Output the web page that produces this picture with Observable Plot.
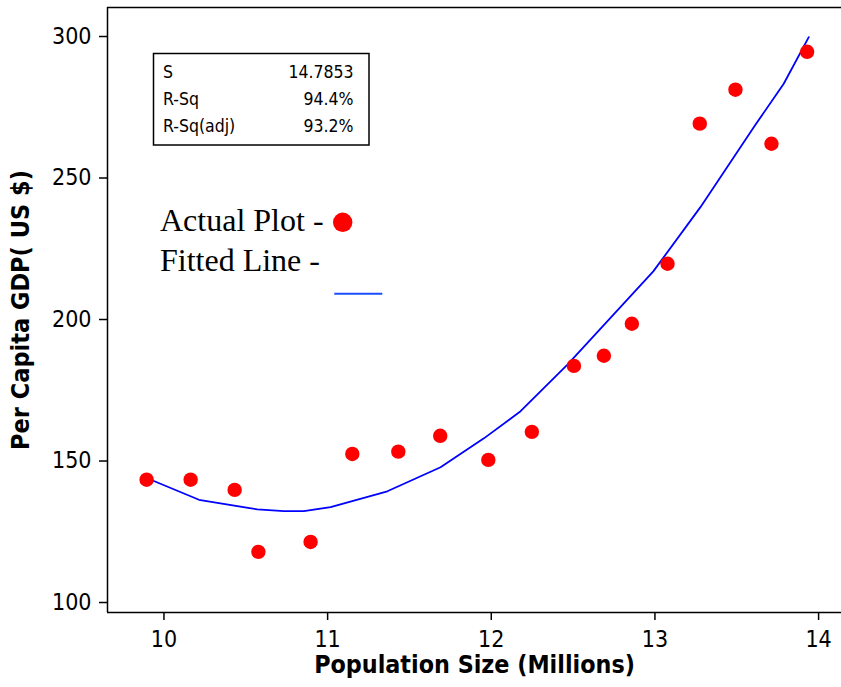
<!DOCTYPE html>
<html>
<head>
<meta charset="utf-8">
<script src="https://cdn.jsdelivr.net/npm/d3@7"></script>
<script src="https://cdn.jsdelivr.net/npm/@observablehq/plot@0.6"></script>
<style>
  html, body { margin: 0; padding: 0; background: #fff; }
  #wrap { position: relative; width: 841px; height: 687px; }
  #overlay { position: absolute; left: 0; top: 0; pointer-events: none; }
</style>
</head>
<body>
<div id="wrap"></div>
<script>
// Actual data points
const popSize = [9.894, 10.163, 10.432, 10.577, 10.896, 11.151, 11.432, 11.688, 11.982, 12.248, 12.505, 12.688, 12.859, 13.077, 13.274, 13.492, 13.712, 13.930];
const gdp     = [143.4, 143.4, 139.8, 117.9, 121.4, 152.5, 153.3, 158.9, 150.4, 160.3, 183.6, 187.2, 198.5, 219.7, 269.2, 281.2, 262.1, 294.6];
// Fitted line
const fitX = [9.894, 10.214, 10.571, 10.733, 10.855, 11.018, 11.365, 11.690, 11.955, 12.179, 12.464, 12.990, 13.278, 13.614, 13.787, 13.940];
const fitY = [144.0, 136.3, 132.9, 132.3, 132.3, 133.7, 139.3, 147.8, 158.0, 167.6, 184.0, 217.0, 239.7, 268.8, 283.3, 299.8];
// Axes
const xTicks = [10, 11, 12, 13, 14];
const yTicks = [100, 150, 200, 250, 300];
const xDomain = [9.655, 14.14];
const yDomain = [96.47, 310.25];
const xTitle = "Population Size (Millions)";
const yTitle = "Per Capita GDP( US $)";
// Stats box
const statLabels = ["S", "R-Sq", "R-Sq(adj)"];
const statValues = ["14.7853", "94.4%", "93.2%"];
// Legend
const legendLabels = ["Actual Plot -", "Fitted Line -"];

const points = popSize.map((x, i) => ({x, y: gdp[i]}));
const fit = fitX.map((x, i) => ({x, y: fitY[i]}));

const sansFont = "'DejaVu Sans Condensed', 'DejaVu Sans', sans-serif";

const chart = Plot.plot({
  width: 841,
  height: 687,
  marginLeft: 107,
  marginRight: 0,
  marginTop: 7,
  marginBottom: 75,
  x: {domain: xDomain},
  y: {domain: yDomain},
  style: {fontFamily: sansFont, fontSize: "23px", color: "#000", background: "#fff", fontStretch: "condensed"},
  marks: [
    Plot.axisX({ticks: xTicks, tickSize: 8, tickPadding: 10, label: null, tickFormat: d => String(d), strokeWidth: 1.5}),
    Plot.axisY({ticks: yTicks, tickSize: 8, tickPadding: 8, label: null, tickFormat: d => String(d), strokeWidth: 1.5}),
    Plot.ruleX([xDomain[0]], {stroke: "#000", strokeWidth: 1.5}),
    Plot.ruleY([yDomain[0]], {stroke: "#000", strokeWidth: 1.5}),
    Plot.ruleY([yDomain[1]], {stroke: "#000", strokeWidth: 1.5}),
    Plot.line(fit, {x: "x", y: "y", stroke: "#0000ff", strokeWidth: 1.8}),
    Plot.dot(points, {x: "x", y: "y", r: 7.2, fill: "#ff0000", stroke: "none"}),
    Plot.text([xTitle], {frameAnchor: "bottom", dy: 53, textAnchor: "middle", fontWeight: "bold", fontSize: 24.8, lineAnchor: "middle"}),
    Plot.text([yTitle], {frameAnchor: "left", dx: -87, textAnchor: "middle", rotate: -90, fontWeight: "bold", fontSize: 25, lineAnchor: "middle"})
  ]
});

const wrap = document.getElementById("wrap");
wrap.appendChild(chart);

// Overlay: stats box and legend
const ns = "http://www.w3.org/2000/svg";
const ov = document.createElementNS(ns, "svg");
ov.setAttribute("id", "overlay");
ov.setAttribute("width", 841);
ov.setAttribute("height", 687);
function el(tag, attrs, text) {
  const e = document.createElementNS(ns, tag);
  for (const k in attrs) e.setAttribute(k, attrs[k]);
  if (text != null) e.textContent = text;
  ov.appendChild(e);
  return e;
}
el("rect", {x: 153.5, y: 53.5, width: 215.5, height: 91.5, fill: "#fff", stroke: "#000", "stroke-width": 1.5});
statLabels.forEach((s, i) => {
  el("text", {x: 163, y: 78 + i * 26.8, "font-family": sansFont, "font-size": 17.5, "font-stretch": "condensed"}, s);
  el("text", {x: 353.5, y: 78 + i * 26.8, "font-family": sansFont, "font-size": 17.5, "font-stretch": "condensed", "text-anchor": "end"}, statValues[i]);
});
legendLabels.forEach((s, i) => {
  el("text", {x: 160, y: 231 + i * 40, "font-family": "'Liberation Serif', 'Times New Roman', serif", "font-size": 32}, s);
});
el("circle", {cx: 342.7, cy: 222.3, r: 9.7, fill: "#ff0000"});
el("line", {x1: 334.3, x2: 382.3, y1: 293.7, y2: 293.7, stroke: "#1a4dff", "stroke-width": 2});
wrap.appendChild(ov);
</script>
</body>
</html>
